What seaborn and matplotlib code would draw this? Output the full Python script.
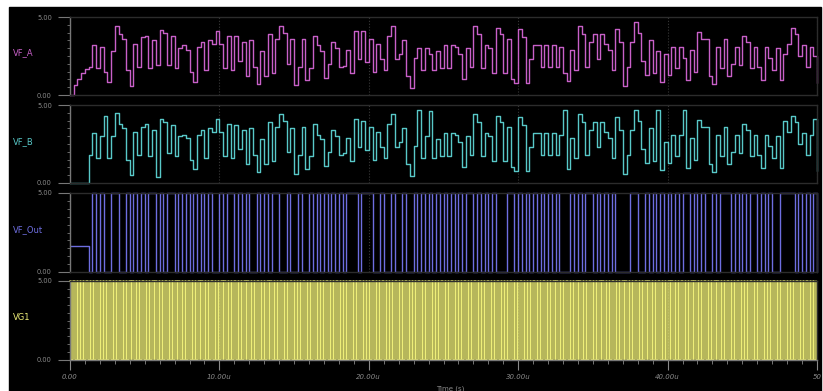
import numpy as np
import pandas as pd
import seaborn as sns
import matplotlib.pyplot as plt
from matplotlib.patches import Rectangle
from matplotlib.ticker import MultipleLocator

sns.set_theme(style="dark")
plt.rcParams["font.family"] = ["DejaVu Sans"]

# sample step of the traces below, in us
dt_us = 0.25

# VF_A (V), one value every 0.25 us, 0..50 us
vf_a = [
    0.0, 0.65, 1.05, 1.4, 1.65, 1.8, 3.2, 1.7,
    3.1, 1.5, 0.85, 2.8, 4.45, 3.9, 3.6, 1.6,
    0.6, 3.3, 1.8, 3.7, 3.8, 1.7, 3.5, 1.9,
    4.15, 3.95, 1.9, 3.8, 1.7, 3.0, 3.2, 2.9,
    1.5, 0.85, 3.1, 3.4, 1.6, 3.5, 3.3, 4.1,
    3.3, 1.7, 3.8, 1.6, 3.8, 2.2, 3.4, 1.2,
    3.5, 1.8, 0.7, 2.8, 1.2, 3.9, 1.4, 3.6,
    4.45, 4.0, 2.0, 3.6, 0.65, 1.8, 3.6, 0.95,
    1.7, 3.8, 3.2, 2.8, 1.1, 2.0, 3.4, 3.0,
    1.8, 1.85, 2.9, 1.4, 4.1, 2.3, 4.1, 2.1,
    3.6, 1.5, 3.3, 2.3, 1.6, 3.8, 4.4, 2.3,
    2.6, 3.5, 1.2, 0.45, 2.4, 3.0, 1.6, 3.0,
    2.6, 1.6, 2.8, 1.7, 3.2, 1.7, 3.2, 3.1,
    2.6, 1.0, 3.0, 1.8, 4.45, 3.9, 1.7, 3.2,
    3.0, 1.4, 4.3, 3.9, 1.4, 3.6, 1.0, 0.8,
    4.2, 3.7, 0.75, 2.3, 3.2, 3.2, 1.8, 3.2,
    1.8, 3.2, 1.8, 3.1, 1.4, 0.9, 2.9, 1.6,
    4.45, 3.9, 1.8, 3.4, 3.9, 2.3, 3.9, 3.3,
    2.9, 1.6, 4.25, 3.4, 0.55, 1.8, 3.4, 4.7,
    4.0, 2.2, 1.3, 3.5, 1.4, 2.8, 0.85, 2.6,
    1.3, 3.1, 1.7, 3.1, 2.4, 0.95, 2.9, 1.5,
    4.05, 3.6, 3.6, 1.2, 0.7, 3.1, 1.7, 3.6,
    1.2, 2.0, 3.1, 1.9, 3.8, 3.4, 1.7, 3.1,
    1.8, 0.95, 3.1, 2.4, 1.6, 3.0, 0.95, 2.6,
    3.3, 4.3, 3.9, 2.5, 3.2, 1.8, 3.1, 2.5,
    0.75,
]

# VF_B (V), same time base
vf_b = [
    0.0, 0.0, 0.0, 0.0, 0.0, 1.8, 3.2, 1.6,
    3.0, 4.3, 1.6, 3.0, 4.5, 3.8, 3.5, 1.5,
    0.5, 3.3, 1.8, 3.6, 3.8, 1.7, 3.4, 0.4,
    4.1, 3.9, 1.9, 3.7, 1.7, 3.0, 3.1, 2.9,
    1.5, 0.9, 3.1, 3.4, 1.6, 3.5, 3.3, 4.1,
    3.3, 1.7, 3.8, 1.6, 3.7, 2.2, 3.4, 1.2,
    3.5, 1.8, 0.7, 2.8, 1.2, 3.9, 1.4, 3.6,
    4.4, 4.0, 2.0, 3.5, 0.6, 1.8, 3.6, 0.9,
    1.7, 3.8, 3.1, 2.8, 1.1, 2.0, 3.4, 3.0,
    1.8, 1.9, 2.9, 1.4, 4.1, 2.3, 4.0, 2.1,
    3.6, 1.5, 3.3, 2.3, 1.6, 3.8, 4.4, 2.3,
    2.6, 3.5, 1.2, 0.45, 2.4, 4.7, 1.6, 3.0,
    4.6, 1.6, 2.8, 1.7, 3.2, 1.7, 3.2, 3.1,
    2.6, 1.0, 3.0, 1.8, 4.45, 3.9, 1.7, 3.2,
    3.0, 1.4, 4.3, 3.9, 1.4, 3.6, 1.0, 0.8,
    4.2, 3.7, 0.75, 2.3, 3.2, 3.2, 1.8, 3.2,
    1.8, 3.2, 1.8, 3.1, 4.7, 0.9, 2.9, 1.6,
    4.45, 3.9, 1.8, 3.4, 3.9, 2.3, 3.9, 3.3,
    2.9, 1.6, 4.25, 3.4, 0.55, 1.8, 3.4, 4.7,
    4.0, 2.2, 1.3, 3.5, 1.4, 4.7, 0.85, 2.6,
    1.3, 3.1, 1.7, 3.1, 4.7, 0.95, 2.9, 1.5,
    4.05, 3.6, 3.6, 1.2, 0.7, 3.1, 1.7, 3.6,
    1.2, 2.0, 3.1, 1.9, 3.8, 3.4, 1.7, 3.1,
    1.8, 0.95, 3.1, 2.4, 1.6, 3.0, 0.95, 4.0,
    3.3, 4.3, 3.9, 2.5, 3.2, 1.8, 3.1, 4.1,
    0.75,
]

# VF_Out (V), same time base
vf_out = [
    1.65, 1.65, 1.65, 1.65, 1.65, 0, 5, 0,
    5, 0, 0, 5, 5, 0, 0, 5,
    0, 5, 0, 5, 0, 5, 5, 0,
    5, 0, 5, 5, 0, 5, 0, 5,
    0, 5, 0, 5, 0, 5, 0, 0,
    5, 0, 5, 5, 0, 5, 0, 5,
    0, 0, 5, 0, 5, 0, 5, 5,
    0, 0, 5, 0, 0, 5, 0, 0,
    5, 0, 5, 0, 5, 0, 5, 0,
    5, 0, 5, 5, 5, 0, 5, 5,
    5, 0, 0, 5, 0, 0, 5, 0,
    0, 5, 0, 0, 5, 0, 5, 0,
    5, 0, 5, 0, 5, 0, 5, 0,
    5, 0, 5, 5, 0, 5, 0, 5,
    0, 5, 0, 0, 0, 5, 5, 0,
    5, 0, 5, 0, 5, 0, 5, 0,
    5, 0, 5, 0, 0, 0, 5, 0,
    5, 0, 5, 5, 0, 5, 0, 5,
    0, 5, 0, 0, 0, 0, 5, 5,
    0, 0, 5, 0, 5, 0, 5, 0,
    5, 0, 5, 0, 5, 5, 0, 5,
    0, 5, 0, 0, 5, 0, 5, 5,
    5, 0, 5, 0, 5, 0, 5, 5,
    0, 5, 0, 5, 0, 0, 5, 5,
    5, 5, 0, 5, 0, 5, 0, 5,
    0,
]

# VG1 gate clock
vg1_period_us = 0.22
vg1_high_us = 0.09
vg1_levels = [5.0, 0.0]

channels = ["VF_A", "VF_B", "VF_Out", "VG1"]
colors = ["#c860c8", "#58c8c8", "#6e6ee0", "#eeee78"]
x_ticks = [0, 10, 20, 30, 40, 50]
x_tick_labels = ["0.00", "10.00u", "20.00u", "30.00u", "40.00u", "50"]

t_sampled = np.arange(len(vf_a)) * dt_us
n_cyc = int(50 / vg1_period_us) + 1
starts = np.arange(n_cyc) * vg1_period_us
t_vg1 = np.column_stack([starts, starts + vg1_high_us]).ravel()
v_vg1 = np.tile(vg1_levels, n_cyc)
keep = t_vg1 <= 50
t_vg1, v_vg1 = t_vg1[keep], v_vg1[keep]

frames = [
    pd.DataFrame({"t": t_sampled, "v": vf_a}),
    pd.DataFrame({"t": t_sampled, "v": vf_b}),
    pd.DataFrame({"t": t_sampled, "v": vf_out}),
    pd.DataFrame({"t": t_vg1, "v": v_vg1}),
]
line_w = [1.0, 1.0, 1.0, 1.1]

W, H = 823, 391
fig = plt.figure(figsize=(W / 100, H / 100), dpi=100, facecolor="white")
fig.patches.append(Rectangle((9 / W, 0), (821 - 9) / W, 1 - 7 / H,
                             transform=fig.transFigure, color="black", zorder=-10))

# panel tops / bottoms in pixels (5 V line, 0 V line)
panel_px = [(17, 95), (105, 183), (193, 272), (281, 360)]
label_y_px = [53, 142, 230, 318]
left_px, right_px = 70, 817

gray = "#8a8a8a"
for i, (name, col, df) in enumerate(zip(channels, colors, frames)):
    top, bot = panel_px[i]
    ax = fig.add_axes([left_px / W, 1 - bot / H, (right_px - left_px) / W, (bot - top) / H])
    ax.set_facecolor("black")
    sns.lineplot(data=df, x="t", y="v", ax=ax, color=col, lw=line_w[i],
                 drawstyle="steps-post", estimator=None, sort=False, clip_on=False)
    ax.set_xlim(0, 50)
    ax.set_ylim(0, 5)
    ax.set_xlabel("")
    ax.set_ylabel("")
    for s in ax.spines.values():
        s.set_color("#2c2c2c")
        s.set_linewidth(1.0)
    ax.spines["left"].set_color("#777777")

    ax.set_yticks([0, 5])
    ax.set_yticklabels(["0.00", "5.00"])
    ax.yaxis.set_minor_locator(MultipleLocator(0.5))
    ax.tick_params(axis="y", which="major", left=True, length=9, width=0.8, color="#777777",
                   labelsize=4.8, labelcolor=gray, pad=4)
    ax.tick_params(axis="y", which="minor", left=True, length=2.5, width=0.6, color="#777777")

    ax.set_xticks(x_ticks)
    ax.grid(axis="x", which="major", color="#3a3a3a", linestyle=":", linewidth=0.8)
    ax.grid(axis="y", visible=False)
    if i < 3:
        ax.tick_params(axis="x", which="both", length=0, labelbottom=False)
    else:
        ax.set_xticklabels(x_tick_labels, fontstyle="italic")
        ax.xaxis.set_minor_locator(MultipleLocator(1))
        ax.tick_params(axis="x", which="major", bottom=True, length=7, width=0.8, color="#888888",
                       labelsize=5, labelcolor=gray, pad=3)
        ax.tick_params(axis="x", which="minor", bottom=True, length=3, width=0.6, color="#888888")
        ax.spines["bottom"].set_color("#777777")

    fig.text(13 / W, 1 - label_y_px[i] / H, name, color=col, fontsize=6, va="center", ha="left")

fig.text(450 / W, 1 - 385 / H, "Time (s)", color=gray, fontsize=5, ha="center", va="top")

fig.savefig("out.png", dpi=100, facecolor=fig.get_facecolor())
